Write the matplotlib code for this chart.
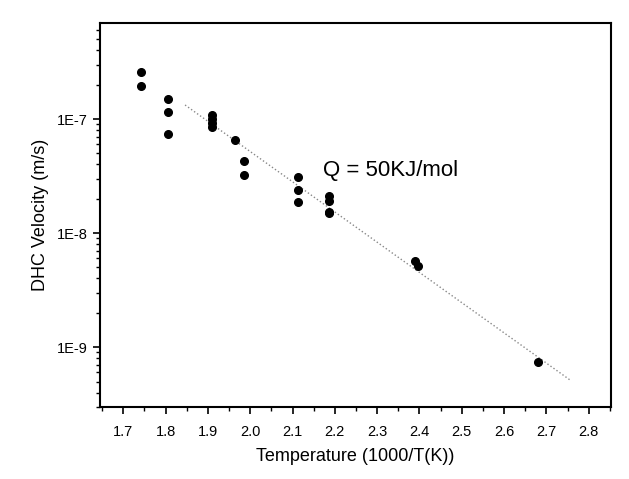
import numpy as np
import matplotlib.pyplot as plt
from matplotlib.ticker import FuncFormatter, FixedLocator, LogLocator, MultipleLocator, NullFormatter

plt.rcParams['font.family'] = ['Liberation Sans', 'DejaVu Sans']

# measured points (1000/T, velocity m/s)
temp_inv = [1.743, 1.743,
            1.806, 1.806, 1.806,
            1.910, 1.910, 1.910, 1.910,
            1.965,
            1.986, 1.986,
            2.113, 2.113, 2.113,
            2.186, 2.186, 2.186, 2.186,
            2.389, 2.397,
            2.681]
velocity = [2.58e-7, 1.96e-7,
            1.51e-7, 1.16e-7, 7.4e-8,
            1.09e-7, 1.0e-7, 9.3e-8, 8.6e-8,
            6.5e-8,
            4.25e-8, 3.2e-8,
            3.08e-8, 2.38e-8, 1.88e-8,
            2.12e-8, 1.9e-8, 1.54e-8, 1.5e-8,
            5.7e-9, 5.15e-9,
            7.4e-10]

y_ticks = [1e-9, 1e-8, 1e-7]

# Arrhenius fit: log10(v) = fit_a + fit_b * (1000/T)
fit_a = -1.985
fit_b = -2.65
fit_range = [1.846, 2.755]

fig, ax = plt.subplots(figsize=(6.29, 4.79), dpi=100)
fig.subplots_adjust(left=0.159, right=0.971, top=0.952, bottom=0.150)

xf = np.linspace(fit_range[0], fit_range[1], 50)
ax.plot(xf, 10 ** (fit_a + fit_b * xf), linestyle=':', color='#888888', lw=1.0)
ax.plot(temp_inv, velocity, 'o', color='black', markersize=5.5)

ax.set_yscale('log')
ax.set_xlim(1.645, 2.852)
ax.set_ylim(2.98e-10, 6.95e-7)

ax.xaxis.set_major_locator(MultipleLocator(0.1))
ax.xaxis.set_minor_locator(MultipleLocator(0.05))
ax.xaxis.set_major_formatter(FuncFormatter(lambda v, p: f"{v:.1f}"))
ax.yaxis.set_major_locator(FixedLocator(y_ticks))
ax.yaxis.set_minor_locator(LogLocator(base=10, subs=np.arange(2, 10)))
ax.yaxis.set_major_formatter(FuncFormatter(lambda v, p: f"1E{int(round(np.log10(v)))}"))
ax.yaxis.set_minor_formatter(NullFormatter())

ax.tick_params(which='major', direction='out', length=5, width=1.2, labelsize=10.5)
ax.tick_params(which='minor', direction='out', length=3, width=1.0)
ax.tick_params(axis='x', which='major', pad=8)
ax.tick_params(top=False, right=False)
for s in ax.spines.values():
    s.set_linewidth(1.5)

ax.text(2.172, 3.57e-8, "Q = 50KJ/mol", fontsize=16, va='center', ha='left')

ax.set_xlabel("Temperature (1000/T(K))", fontsize=13, labelpad=6)
ax.set_ylabel("DHC Velocity (m/s)", fontsize=13, labelpad=6)

plt.savefig("out.png", dpi=100)
